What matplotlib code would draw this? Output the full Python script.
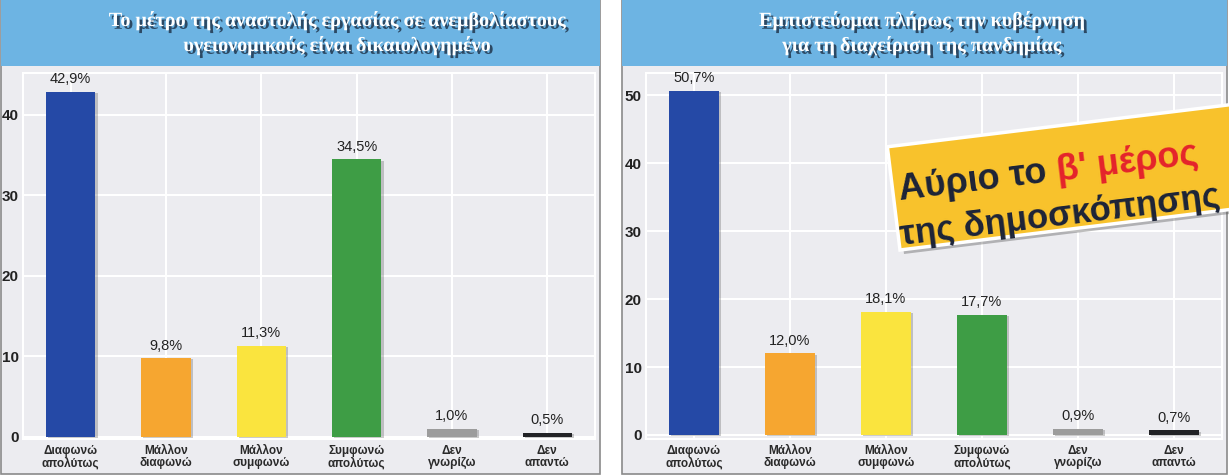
import matplotlib
matplotlib.use("Agg")
import matplotlib.pyplot as plt
from matplotlib.patches import Rectangle
from matplotlib.transforms import IdentityTransform
import matplotlib.patheffects as pe
import numpy as np

# ---- data ----
categories = ["Διαφωνώ\nαπολύτως", "Μάλλον\nδιαφωνώ", "Μάλλον\nσυμφωνώ",
              "Συμφωνώ\nαπολύτως", "Δεν\nγνωρίζω", "Δεν\nαπαντώ"]
values_left = [42.9, 9.8, 11.3, 34.5, 1.0, 0.5]
values_right = [50.7, 12.0, 18.1, 17.7, 0.9, 0.7]
labels_left = ["42,9%", "9,8%", "11,3%", "34,5%", "1,0%", "0,5%"]
labels_right = ["50,7%", "12,0%", "18,1%", "17,7%", "0,9%", "0,7%"]
title_left = "Το μέτρο της αναστολής εργασίας σε ανεμβολίαστους\nυγειονομικούς είναι δικαιολογημένο"
title_right = "Εμπιστεύομαι πλήρως την κυβέρνηση\nγια τη διαχείριση της πανδημίας"
yticks_left = [0, 10, 20, 30, 40]
yticks_right = [0, 10, 20, 30, 40, 50]
bar_colors = ["#2549a6", "#f6a630", "#fae43e", "#3e9d45", "#9c9c9c", "#222326"]

W, H = 1229, 476
fig = plt.figure(figsize=(W / 100, H / 100), dpi=100)
fig.patch.set_facecolor("white")

BG = "#ececf0"
BLUE = "#6db4e3"

def px(x0, y0_img, w, h):
    """figure-fraction rect from image pixel box (top-left origin)"""
    return [x0 / W, (H - y0_img - h) / H, w / W, h / H]

# panel backgrounds and title bands (in pixels)
for (x0, x1) in [(1, 600), (622, 1227)]:
    fig.patches.append(Rectangle((x0, H - 474), x1 - x0, 474, transform=IdentityTransform(),
                                 facecolor=BG, edgecolor="#8a8a8a", lw=1.2, zorder=-3))
    fig.patches.append(Rectangle((x0, H - 66), x1 - x0, 66, transform=IdentityTransform(),
                                 facecolor=BLUE, edgecolor="none", zorder=-2))

def title(cx, txt):
    fig.text(cx / W, 1 - 33 / H, txt, ha="center", va="center", color="white",
             fontsize=14.5, fontweight="bold", family="Liberation Serif",
             linespacing=1.25,
             path_effects=[pe.SimplePatchShadow(offset=(2, -2), shadow_rgbFace="#1c2f45", alpha=0.8),
                           pe.Normal()])

title(337, title_left)
title(922, title_right)

def panel(rect, vals, labs, yticks, ylim):
    ax = fig.add_axes(rect)
    ax.set_zorder(1)
    ax.set_facecolor(BG)
    x = np.arange(len(vals))
    bars = ax.bar(x, vals, width=0.52, color=bar_colors, zorder=3)
    for b in bars:
        b.set_path_effects([pe.SimplePatchShadow(offset=(1.5, -1), shadow_rgbFace="#555555", alpha=0.3),
                            pe.Normal()])
    for xi, v, l in zip(x, vals, labs):
        ax.annotate(l, (xi, v), xytext=(0, 4), textcoords="offset points", ha="center",
                    va="bottom", fontsize=10.5, color="#222222", family="Liberation Sans", zorder=4)
    ax.set_xlim(-0.5, len(vals) - 0.5)
    ax.set_ylim(*ylim)
    ax.set_xticks(x)
    ax.set_xticklabels(categories, fontsize=8.5, fontweight="bold", family="Liberation Sans",
                       color="#2a2a2a", linespacing=1.0)
    ax.set_yticks(yticks)
    ax.set_yticklabels([str(t) for t in yticks], fontsize=11, fontweight="bold",
                       family="Liberation Sans", color="#222222")
    ax.tick_params(length=0, pad=3)
    ax.tick_params(axis="x", pad=4)
    ax.grid(True, color="white", lw=1.5, zorder=1)
    ax.set_axisbelow(True)
    for s in ax.spines.values():
        s.set_color("white")
        s.set_linewidth(1.5)
    return ax

axL = panel(px(23, 73, 572, 366), values_left, labels_left, yticks_left, (-0.25, 45.2))
axR = panel(px(646, 73, 576, 366), values_right, labels_right, yticks_right, (-0.6, 53.3))

# ---- sticker ----
ang = 7.0
sx, sy = 900, H - 250
fig.patches.append(Rectangle((sx + 4, sy - 4), 420, 104, angle=ang, transform=IdentityTransform(),
                             facecolor="#444444", alpha=0.35, edgecolor="none", zorder=9))
fig.patches.append(Rectangle((sx, sy), 420, 104, angle=ang, transform=IdentityTransform(),
                             facecolor="#f8c22c", edgecolor="white", lw=2.5, zorder=10))

DARK = "#1c2338"
RED = "#e4232b"
sfont = dict(family="Liberation Sans", fontweight="bold",
             fontsize=26, rotation=ang, rotation_mode="anchor", ha="left", va="baseline",
             transform=IdentityTransform(), zorder=11)
t1 = fig.text(900, H - 200, "Αύριο το ", color=DARK, **sfont)
fig.canvas.draw()
r = fig.canvas.get_renderer()
w1, _, _ = r.get_text_width_height_descent("Αύριο το ", t1.get_fontproperties(), ismath=False)
c, s = np.cos(np.radians(ang)), np.sin(np.radians(ang))
fig.text(900 + w1 * c, H - 200 + w1 * s, "β' μέρος", color=RED, **sfont)
sfont2 = dict(sfont, fontsize=25)
fig.text(901, H - 245, "της δημοσκόπησης", color=DARK, **sfont2)

fig.savefig("out.png", dpi=100)
